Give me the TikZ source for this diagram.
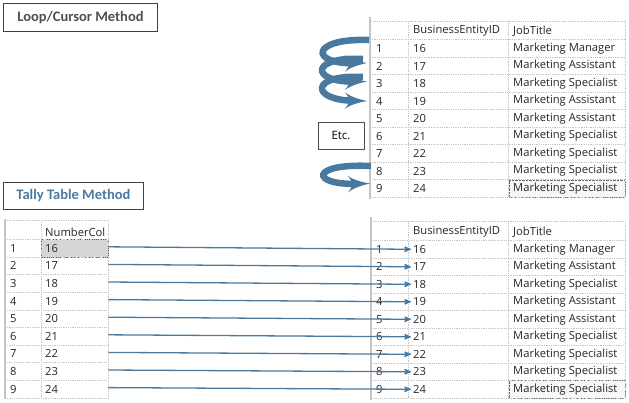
\documentclass[tikz,border=0pt]{standalone}
\usepackage{fontspec}
\setmainfont{Open Sans}
\newfontfamily\titlefont{Carlito}
\usetikzlibrary{arrows}
\definecolor{loopblue}{HTML}{4A79A0}
\definecolor{gridgrey}{HTML}{C4C4C4}
\definecolor{titlegrey}{HTML}{4F4F4F}
\definecolor{cellgrey}{HTML}{D6D6D6}

\begin{document}
\begin{tikzpicture}[x=1pt,y=-1pt,>=stealth',
		cell/.style={anchor=west,inner sep=0pt,text=black!85,font=\fontsize{11.2}{13}\selectfont},
		title/.style={draw=black!75,line width=0.9pt,anchor=north west,inner sep=0pt,
			font=\titlefont\bfseries\fontsize{14.5}{16}\selectfont},
		grid/.style={gridgrey,densely dotted,line width=0.8pt},
		border/.style={gridgrey,line width=1.3pt},
		loop/.style={loopblue,line width=6.5pt,-latex'},
		link/.style={loopblue,line width=1.3pt,->,shorten >=2pt}]
	\useasboundingbox (0,0) rectangle (629,402);

	% Titles
	\node[title,minimum width=154pt,minimum height=28pt,text=titlegrey] (loopt) at (3,3) {Loop/Cursor Method};
	\node[title,minimum width=140pt,minimum height=27pt,text=loopblue] (tallyt) at (3,182) {Tally Table Method};
	\node[draw=black!70,line width=0.8pt,minimum width=46pt,minimum height=27pt,inner sep=0pt,
		font=\fontsize{11.5}{13}\selectfont] (etc) at (341,135.5) {Etc.};

	% Top table
	\draw[densely dotted,black!60,fill=black!3] (509,180.5) rectangle (625,197);
	\draw[border] (370,17) -- (370,199);
	\draw[grid] (370,21) -- (625,21);
	\foreach \k in {0,...,9}
		\draw[grid] (370,{39.75+17.5*\k}) -- (625,{39.75+17.5*\k});
	\foreach \x in {408,508,625}
		\draw[grid] (\x,21) -- (\x,197.25);
	\node[cell] (thid) at (413,31) {BusinessEntityID};
	\node[cell] (thjob) at (513,31) {JobTitle};
	\foreach \job [count=\i] in {Marketing Manager,Marketing Assistant,Marketing Specialist,
			Marketing Assistant,Marketing Assistant,Marketing Specialist,Marketing Specialist,
			Marketing Specialist,Marketing Specialist}{
		\pgfmathtruncatemacro\id{15+\i}
		\node[cell] (tn\i) at (376,{48.5+17.5*(\i-1)}) {\i};
		\node[cell] (tid\i) at (413,{48.5+17.5*(\i-1)}) {\id};
		\node[cell] (tjob\i) at (513,{48.5+17.5*(\i-1)}) {\job};
	}

	% Loops
	\coordinate (s1) at (369,40);
	\coordinate (s2) at (363,59);
	\coordinate (s3) at (363,77);
	\coordinate (s8) at (371,166);
	\draw[loop] (s1) .. controls (310,38) and (310,64) .. ([xshift=-9pt,yshift=3pt]tn2.west);
	\draw[loop] (s2) .. controls (310,56) and (310,82) .. ([xshift=-9pt,yshift=2pt]tn3.west);
	\draw[loop] (s3) .. controls (310,74) and (310,100) .. ([xshift=-9pt,yshift=0pt]tn4.west);
	\draw[loop] (s8) .. controls (310,163) and (310,185) .. ([xshift=-6pt,yshift=5pt]tn9.west);

	% Bottom left table
	\fill[cellgrey] (41,239.5) rectangle (108,257.1);
	\draw[densely dotted,black!65] (41,239.5) rectangle (108,257.1);
	\draw[border] (5,219) -- (5,399);
	\draw[grid] (5,220) -- (108,220);
	\foreach \k in {0,...,9}
		\draw[grid] (5,{239.5+17.6*\k}) -- (108,{239.5+17.6*\k});
	\foreach \x in {41,108}
		\draw[grid] (\x,220) -- (\x,397.9);
	\node[cell] (lhead) at (45,232) {NumberCol};
	\foreach \i in {1,...,9}{
		\pgfmathtruncatemacro\id{15+\i}
		\node[cell] (ln\i) at (10,{248.3+17.6*(\i-1)}) {\i};
		\node[cell,text width=63pt] (lv\i) at (45,{248.3+17.6*(\i-1)}) {\id};
	}

	% Bottom right table
	\draw[densely dotted,black!60,fill=black!3] (509,380.5) rectangle (625,398);
	\draw[border] (371,217) -- (371,400);
	\draw[grid] (371,221) -- (625,221);
	\foreach \k in {0,...,9}
		\draw[grid] (371,{240.5+17.5*\k}) -- (625,{240.5+17.5*\k});
	\foreach \x in {408,508,625}
		\draw[grid] (\x,221) -- (\x,398);
	\node[cell] (rhid) at (413,232) {BusinessEntityID};
	\node[cell] (rhjob) at (513,232) {JobTitle};
	\foreach \job [count=\i] in {Marketing Manager,Marketing Assistant,Marketing Specialist,
			Marketing Assistant,Marketing Assistant,Marketing Specialist,Marketing Specialist,
			Marketing Specialist,Marketing Specialist}{
		\pgfmathtruncatemacro\id{15+\i}
		\node[cell] (rn\i) at (376,{249.3+17.5*(\i-1)}) {\i};
		\node[cell] (rid\i) at (413,{249.3+17.5*(\i-1)}) {\id};
		\node[cell] (rjob\i) at (513,{249.3+17.5*(\i-1)}) {\job};
	}

	% Links
	\foreach \i in {1,...,9}
		\draw[link] ([yshift=1.5pt]lv\i.east) -- (rid\i.west);
\end{tikzpicture}
\end{document}
